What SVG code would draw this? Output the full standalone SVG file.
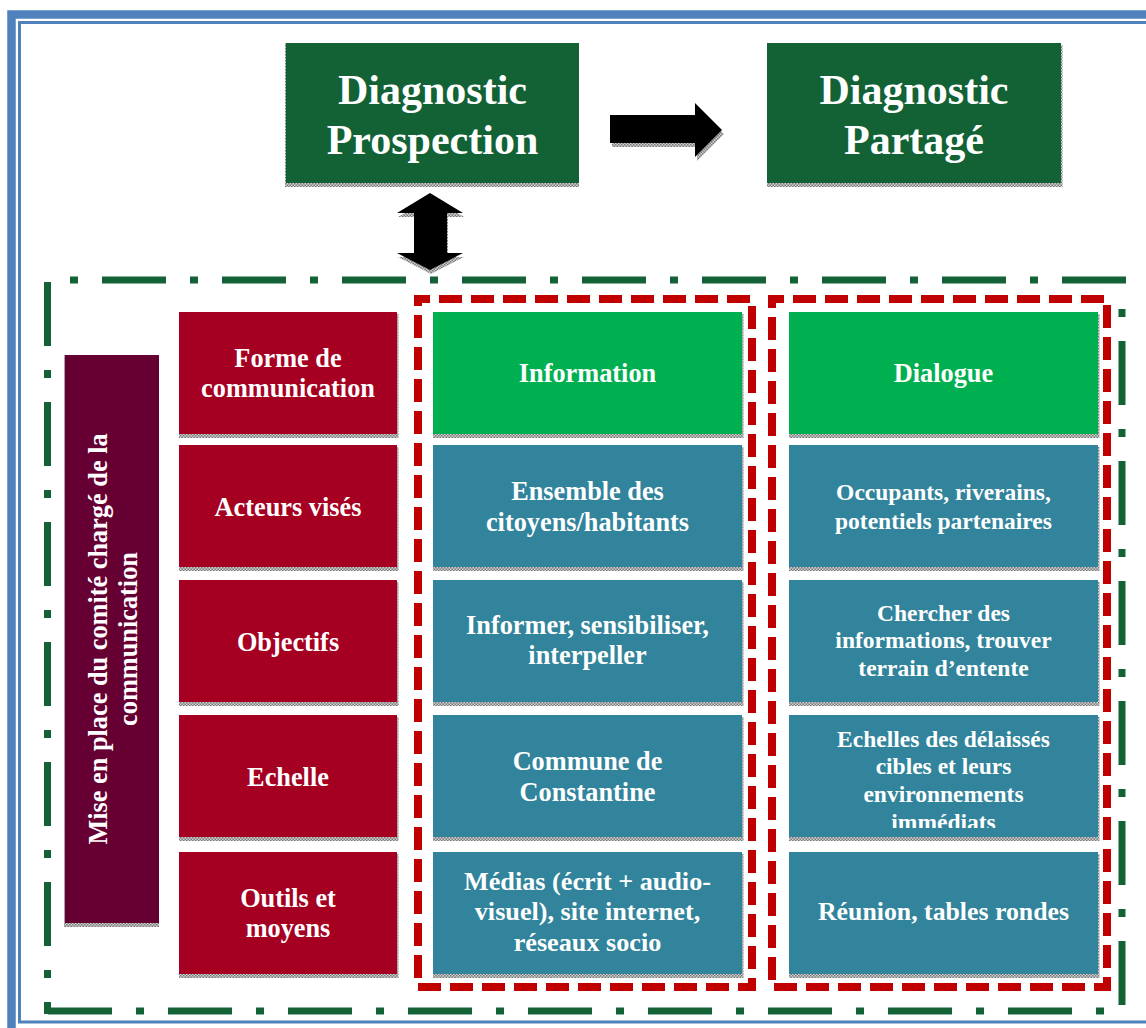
<svg xmlns="http://www.w3.org/2000/svg" width="1146" height="1028" viewBox="0 0 1146 1028">
  <style>
    .t { font-family: "Liberation Serif", "Times New Roman", serif; font-weight: bold; fill: #ffffff; text-anchor: middle; }
    .big { font-size: 42px; }
    .md { font-size: 26.3px; }
    .sm { font-size: 23.5px; }
    .sh { fill: url(#hatch); }
    .dk { fill: #126236; }
    .lg { fill: #00b050; }
    .tl { fill: #31849b; }
    .rd { fill: #a50021; }
    .pu { fill: #660033; }
    .frame-green { fill: none; stroke: #126236; stroke-width: 7; stroke-dasharray: 64 24 8 24; }
    .frame-red { fill: none; stroke: #c00000; stroke-width: 8; stroke-dasharray: 23 9; stroke-dashoffset: 11; }
    .arrow { fill: #000000; }
  </style>
  <defs>
    <pattern id="hatch" width="3" height="3" patternUnits="userSpaceOnUse">
      <rect width="3" height="3" fill="#d2d2d2"/>
      <rect width="1.5" height="1.5" fill="#787878"/>
      <rect x="1.5" y="1.5" width="1.5" height="1.5" fill="#787878"/>
    </pattern>
    <clipPath id="clip-echelle-d">
      <rect x="789" y="715" width="309" height="113"/>
    </clipPath>
  </defs>

  <rect width="1146" height="1028" fill="#ffffff"/>

  <!-- page border: thick outer line, thin inner line -->
  <rect x="11.5" y="14.5" width="1160" height="1040" fill="none" stroke="#4f81bd" stroke-width="8.5"/>
  <rect x="19.5" y="22.5" width="1150" height="999.5" fill="none" stroke="#4f81bd" stroke-width="3"/>

  <!-- dash-dot outer frame -->
  <g id="frame-outer">
    <line class="frame-green" x1="46" y1="280" x2="1126" y2="280" stroke-dashoffset="64"/>
    <line class="frame-green" x1="47.5" y1="282" x2="47.5" y2="1014"/>
    <line class="frame-green" x1="48" y1="1011" x2="1104" y2="1011"/>
    <line class="frame-green" x1="1122" y1="285" x2="1122" y2="1005" stroke-dashoffset="64"/>
  </g>

  <!-- dashed column frames -->
  <g id="frame-information">
    <path class="frame-red" d="M418 299 H752 V987 H418 Z"/>
  </g>
  <g id="frame-dialogue">
    <path class="frame-red" d="M772 299 H1107 V987 H772 Z"/>
  </g>

  <!-- top process boxes -->
  <g id="diag-prospection">
    <rect class="sh" x="285" y="43" width="1.5" height="144"/>
    <rect class="sh" x="286" y="183" width="293" height="4"/>
    <rect class="dk" x="286" y="43" width="293" height="140"/>
    <text class="t big" x="432.5" y="104">Diagnostic</text>
    <text class="t big" x="432.5" y="154">Prospection</text>
  </g>
  <g id="diag-partage">
    <rect class="sh" x="1061" y="45" width="1.5" height="142"/>
    <rect class="sh" x="767" y="183" width="295" height="4"/>
    <rect class="dk" x="767" y="43" width="294" height="140"/>
    <text class="t big" x="914" y="104">Diagnostic</text>
    <text class="t big" x="914" y="154">Partagé</text>
  </g>

  <!-- connectors -->
  <g id="connectors">
    <polygon class="sh" points="612,119 697,119 697,107 724,134 697,161 697,147 612,147"/>
    <polygon class="arrow" points="610,115 695,115 695,103 722,130 695,157 695,143 610,143"/>
    <polygon class="sh" points="431,197 464,217 448,217 448,257 464,257 431,274 398,257 415,257 415,217 398,217"/>
    <polygon class="arrow" points="430,193 463,213 447,213 447,253 463,253 430,270 397,253 414,253 414,213 397,213"/>
  </g>

  <!-- vertical committee box -->
  <g id="committee">
    <rect class="sh" x="64" y="355" width="1.5" height="572"/>
    <rect class="sh" x="65" y="923" width="94" height="4"/>
    <rect class="pu" x="65" y="355" width="94" height="568"/>
    <g transform="translate(112 639) rotate(-90)">
      <text class="t md" x="0" y="-5">Mise en place du comité chargé de la</text>
      <text class="t md" x="0" y="25">communication</text>
    </g>
  </g>

  <!-- row headers -->
  <g id="row-forme">
    <rect class="sh" x="397" y="314" width="1.5" height="124"/>
    <rect class="sh" x="179" y="434" width="219" height="4"/>
    <rect class="rd" x="179" y="312" width="218" height="122"/>
    <text class="t md" x="288" y="367">Forme de</text>
    <text class="t md" x="288" y="397">communication</text>
  </g>
  <g id="row-acteurs">
    <rect class="sh" x="397" y="447" width="1.5" height="124"/>
    <rect class="sh" x="179" y="567" width="219" height="4"/>
    <rect class="rd" x="179" y="445" width="218" height="122"/>
    <text class="t md" x="288" y="516">Acteurs visés</text>
  </g>
  <g id="row-objectifs">
    <rect class="sh" x="397" y="582" width="1.5" height="124"/>
    <rect class="sh" x="179" y="702" width="219" height="4"/>
    <rect class="rd" x="179" y="580" width="218" height="122"/>
    <text class="t md" x="288" y="651">Objectifs</text>
  </g>
  <g id="row-echelle">
    <rect class="sh" x="397" y="717" width="1.5" height="124"/>
    <rect class="sh" x="179" y="837" width="219" height="4"/>
    <rect class="rd" x="179" y="715" width="218" height="122"/>
    <text class="t md" x="288" y="786">Echelle</text>
  </g>
  <g id="row-outils">
    <rect class="sh" x="397" y="854" width="1.5" height="124"/>
    <rect class="sh" x="179" y="974" width="219" height="4"/>
    <rect class="rd" x="179" y="852" width="218" height="122"/>
    <text class="t md" x="288" y="907">Outils et</text>
    <text class="t md" x="288" y="937">moyens</text>
  </g>

  <!-- Information column -->
  <g id="info-forme">
    <rect class="sh" x="742" y="314" width="1.5" height="124"/>
    <rect class="sh" x="433" y="434" width="310" height="4"/>
    <rect class="lg" x="433" y="312" width="309" height="122"/>
    <text class="t md" x="587.5" y="382">Information</text>
  </g>
  <g id="info-acteurs">
    <rect class="sh" x="742" y="447" width="1.5" height="124"/>
    <rect class="sh" x="433" y="567" width="310" height="4"/>
    <rect class="tl" x="433" y="445" width="309" height="122"/>
    <text class="t md" x="587.5" y="500">Ensemble des</text>
    <text class="t md" x="587.5" y="531">citoyens/habitants</text>
  </g>
  <g id="info-objectifs">
    <rect class="sh" x="742" y="582" width="1.5" height="124"/>
    <rect class="sh" x="433" y="702" width="310" height="4"/>
    <rect class="tl" x="433" y="580" width="309" height="122"/>
    <text class="t md" x="587.5" y="634">Informer, sensibiliser,</text>
    <text class="t md" x="587.5" y="664">interpeller</text>
  </g>
  <g id="info-echelle">
    <rect class="sh" x="742" y="717" width="1.5" height="124"/>
    <rect class="sh" x="433" y="837" width="310" height="4"/>
    <rect class="tl" x="433" y="715" width="309" height="122"/>
    <text class="t md" x="587.5" y="770">Commune de</text>
    <text class="t md" x="587.5" y="801">Constantine</text>
  </g>
  <g id="info-outils">
    <rect class="sh" x="742" y="854" width="1.5" height="124"/>
    <rect class="sh" x="433" y="974" width="310" height="4"/>
    <rect class="tl" x="433" y="852" width="309" height="122"/>
    <text class="t md" x="587.5" y="890" style="font-size:26.2px">Médias (écrit + audio-</text>
    <text class="t md" x="587.5" y="920" style="font-size:26.2px">visuel), site internet,</text>
    <text class="t md" x="587.5" y="951" style="font-size:26.2px">réseaux socio</text>
  </g>

  <!-- Dialogue column -->
  <g id="dial-forme">
    <rect class="sh" x="1098" y="314" width="1.5" height="124"/>
    <rect class="sh" x="789" y="434" width="310" height="4"/>
    <rect class="lg" x="789" y="312" width="309" height="122"/>
    <text class="t md" x="943.5" y="382">Dialogue</text>
  </g>
  <g id="dial-acteurs">
    <rect class="sh" x="1098" y="447" width="1.5" height="124"/>
    <rect class="sh" x="789" y="567" width="310" height="4"/>
    <rect class="tl" x="789" y="445" width="309" height="122"/>
    <text class="t sm" x="943.5" y="500">Occupants, riverains,</text>
    <text class="t sm" x="943.5" y="529">potentiels partenaires</text>
  </g>
  <g id="dial-objectifs">
    <rect class="sh" x="1098" y="582" width="1.5" height="124"/>
    <rect class="sh" x="789" y="702" width="310" height="4"/>
    <rect class="tl" x="789" y="580" width="309" height="122"/>
    <text class="t sm" x="943.5" y="621">Chercher des</text>
    <text class="t sm" x="943.5" y="648">informations, trouver</text>
    <text class="t sm" x="943.5" y="676">terrain d’entente</text>
  </g>
  <g id="dial-echelle">
    <rect class="sh" x="1098" y="717" width="1.5" height="124"/>
    <rect class="sh" x="789" y="837" width="310" height="4"/>
    <rect class="tl" x="789" y="715" width="309" height="122"/>
    <g clip-path="url(#clip-echelle-d)">
      <text class="t sm" x="943.5" y="747">Echelles des délaissés</text>
      <text class="t sm" x="943.5" y="774">cibles et leurs</text>
      <text class="t sm" x="943.5" y="802">environnements</text>
      <text class="t sm" x="943.5" y="830">immédiats</text>
    </g>
  </g>
  <g id="dial-outils">
    <rect class="sh" x="1098" y="854" width="1.5" height="124"/>
    <rect class="sh" x="789" y="974" width="310" height="4"/>
    <rect class="tl" x="789" y="852" width="309" height="122"/>
    <text class="t md" x="943.5" y="920" style="font-size:25.8px">Réunion, tables rondes</text>
  </g>
</svg>
